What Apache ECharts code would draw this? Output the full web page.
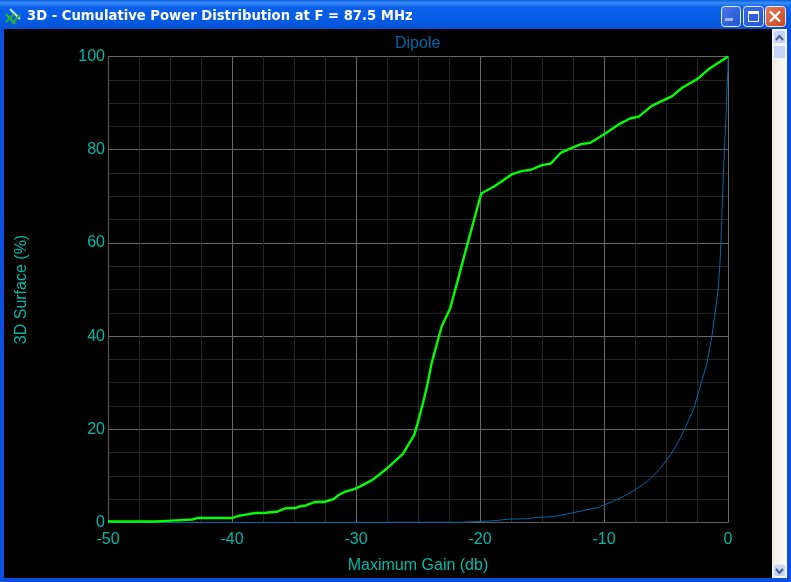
<!DOCTYPE html>
<html>
<head>
<meta charset="utf-8">
<style>html,body{margin:0;padding:0;background:#000}#c{width:791px;height:582px}</style>
<script src="https://cdn.jsdelivr.net/npm/echarts@6/dist/echarts.min.js"></script>
</head>
<body>
<div id="c"></div>
<script>
const windowTitle = "3D - Cumulative Power Distribution at F = 87.5 MHz";
const chartTitle = "Dipole";
const xName = "Maximum Gain (db)";
const yName = "3D Surface (%)";
const cumulativeGreen = [[-50,0.2],[-46.1,0.2],[-46,0.35],[-45.2,0.35],[-45.1,0.6],[-43.2,0.65],[-42.8,0.95],[-40,0.95],[-39.5,1.4],[-38.9,1.7],[-38.1,2.05],[-37.3,2.1],[-36.4,2.3],[-35.7,3.05],[-34.9,3.1],[-34.5,3.5],[-34.1,3.6],[-33.3,4.4],[-32.6,4.4],[-31.8,5.0],[-31.4,5.9],[-30.9,6.6],[-30.2,7.1],[-29.7,7.7],[-28.7,9.1],[-27.5,11.6],[-26.2,14.8],[-25.8,16.6],[-25.3,18.8],[-25,21.6],[-24.6,25.6],[-24.25,29.5],[-23.9,34.2],[-23.5,38.1],[-23.1,42],[-22.4,46],[-22.15,48.5],[-21.8,51.9],[-21,59.9],[-19.9,70.6],[-18.8,72.2],[-17.45,74.7],[-16.65,75.4],[-15.9,75.7],[-15,76.7],[-14.3,77],[-13.5,79.3],[-12.6,80.4],[-11.85,81.2],[-11.1,81.5],[-10.05,83.2],[-8.7,85.6],[-7.9,86.7],[-7.2,87.1],[-6.15,89.4],[-4.5,91.5],[-3.7,93.3],[-2.45,95.2],[-1.6,97.2],[0,100]];
const cumulativeBlue = [[-50,0],[-21.6,0.05],[-20.3,0.2],[-18.7,0.4],[-17.85,0.7],[-16.3,0.8],[-15.4,1.1],[-14.1,1.25],[-12.5,2.1],[-10.45,3.25],[-10,3.75],[-8.7,5.2],[-7.5,7],[-6.55,8.75],[-5.5,11.5],[-4.55,14.85],[-4,17.3],[-3.55,19.8],[-3.05,22.7],[-2.8,24.1],[-2.25,29.1],[-1.7,34.2],[-1.3,39.9],[-1.05,44.9],[-0.8,49.9],[-0.65,55.6],[-0.55,61.3],[-0.45,69.2],[-0.37,74.9],[-0.27,81.4],[-0.16,87.1],[-0.1,92.1],[0,97.5],[0,100]];

const teal = '#00b8a8';
const chart = echarts.init(document.getElementById('c'), null, {renderer:'canvas'});
const btn = (x,w,c1,c2,children) => ({type:'group',children:[
  {type:'rect',shape:{x:x+.5,y:6.5,width:w,height:20,r:3},style:{fill:new echarts.graphic.LinearGradient(0,0,1,1,[{offset:0,color:c1},{offset:1,color:c2}]),stroke:'#e4ecfb',lineWidth:1}},
  ...children]});
const chrome = [
  {type:'rect',shape:{x:0,y:0,width:791,height:29},style:{fill:new echarts.graphic.LinearGradient(0,0,0,1,[{offset:0,color:'#0a5fe0'},{offset:.1,color:'#3a8cf5'},{offset:.25,color:'#0a60ea'},{offset:.8,color:'#0358e0'},{offset:1,color:'#0a52cf'}])}},
  {type:'rect',shape:{x:0,y:29,width:4,height:553},style:{fill:'#0a4fe0'}},
  {type:'rect',shape:{x:787,y:29,width:4,height:553},style:{fill:'#0a4fe0'}},
  {type:'rect',shape:{x:0,y:578,width:791,height:4},style:{fill:'#0a4fe0'}},
  {type:'rect',shape:{x:772,y:29,width:15,height:549},style:{fill:new echarts.graphic.LinearGradient(0,0,1,0,[{offset:0,color:'#f0eee4'},{offset:1,color:'#fdfdfa'}])}},
  {type:'rect',shape:{x:773.5,y:30.5,width:12,height:13,r:2},style:{fill:'#c5d5f7',stroke:'#eef3fd'}},
  {type:'polyline',shape:{points:[[776,40],[779.5,36],[783,40]]},style:{stroke:'#4d6185',lineWidth:2,fill:null}},
  {type:'rect',shape:{x:773.5,y:45.5,width:12,height:13,r:2},style:{fill:'#c5d5f7',stroke:'#eef3fd'}},
  {type:'rect',shape:{x:773.5,y:564.5,width:12,height:12,r:2},style:{fill:'#c5d5f7',stroke:'#eef3fd'}},
  {type:'polyline',shape:{points:[[776,569],[779.5,573],[783,569]]},style:{stroke:'#4d6185',lineWidth:2,fill:null}},
  btn(721,19,'#4a78e8','#2252d0',[{type:'rect',shape:{x:725,y:18,width:8,height:3},style:{fill:'#9fb8f0'}}]),
  btn(743,20,'#3a6ae8','#2555d8',[{type:'rect',shape:{x:748.5,y:11.5,width:10,height:10},style:{fill:null,stroke:'#fff',lineWidth:1}},{type:'rect',shape:{x:748,y:11,width:11,height:3},style:{fill:'#fff'}}]),
  btn(765,20,'#e8805a','#c8401c',[{type:'line',shape:{x1:770,y1:11.5,x2:780,y2:21.5},style:{stroke:'#fff',lineWidth:2.4}},{type:'line',shape:{x1:780,y1:11.5,x2:770,y2:21.5},style:{stroke:'#fff',lineWidth:2.4}}]),
  {type:'line',shape:{x1:6,y1:14,x2:15,y2:24},style:{stroke:'#30b830',lineWidth:2}},
  {type:'line',shape:{x1:10,y1:9,x2:20,y2:19},style:{stroke:'#c4ecc0',lineWidth:2}},
  {type:'line',shape:{x1:6,y1:22,x2:14,y2:14},style:{stroke:'#2fb030',lineWidth:2}},
  {type:'line',shape:{x1:12,y1:23,x2:20,y2:15},style:{stroke:'#2fb030',lineWidth:2}},
  {type:'text',x:27,y:16.5,style:{text:windowTitle,fill:'#fff',font:'bold 13.2px "DejaVu Sans"',textVerticalAlign:'middle',shadowColor:'#0a2a90',shadowOffsetX:1,shadowOffsetY:1,shadowBlur:0}}
];
chart.setOption({
  animation:false,
  backgroundColor:'#000',
  textStyle:{fontFamily:'"Liberation Sans"'},
  title:{text:chartTitle,left:395,top:36,padding:0,textStyle:{color:'#0068a8',fontSize:16,fontWeight:'normal',fontFamily:'"Liberation Sans"'}},
  grid:{left:108,right:63,top:56.5,bottom:59.5,containLabel:false},
  xAxis:{type:'value',min:-50,max:0,interval:10,name:xName,nameLocation:'middle',nameGap:35,
    nameTextStyle:{color:teal,fontSize:16,fontFamily:'"Liberation Sans"'},
    axisLine:{onZero:false,lineStyle:{color:'#606060'}},axisTick:{show:false},
    axisLabel:{color:teal,fontSize:16,margin:9,fontFamily:'"Liberation Sans"'},
    splitLine:{show:true,lineStyle:{color:'#6a6a6a',width:1}},
    minorTick:{show:false,splitNumber:4},minorSplitLine:{show:true,lineStyle:{color:'#262626',width:1}}},
  yAxis:{type:'value',min:0,max:100,interval:20,name:yName,nameLocation:'middle',nameGap:78,
    nameTextStyle:{color:teal,fontSize:16,fontFamily:'"Liberation Sans"'},
    axisLine:{show:true,onZero:false,lineStyle:{color:'#606060'}},axisTick:{show:false},
    axisLabel:{color:teal,fontSize:16,margin:3,padding:[4,0,0,0],fontFamily:'"Liberation Sans"'},
    splitLine:{show:true,lineStyle:{color:'#6a6a6a',width:1}},
    minorTick:{show:false,splitNumber:4},minorSplitLine:{show:true,lineStyle:{color:'#262626',width:1}}},
  series:[
    {type:'line',name:'Blue',data:cumulativeBlue,showSymbol:false,smooth:false,clip:false,lineStyle:{color:'#0068b0',width:1}},
    {type:'line',name:'Green',data:cumulativeGreen,showSymbol:false,smooth:false,clip:false,lineStyle:{color:'#00ff00',width:2.4}}
  ],
  graphic:chrome
});
</script>
</body>
</html>
